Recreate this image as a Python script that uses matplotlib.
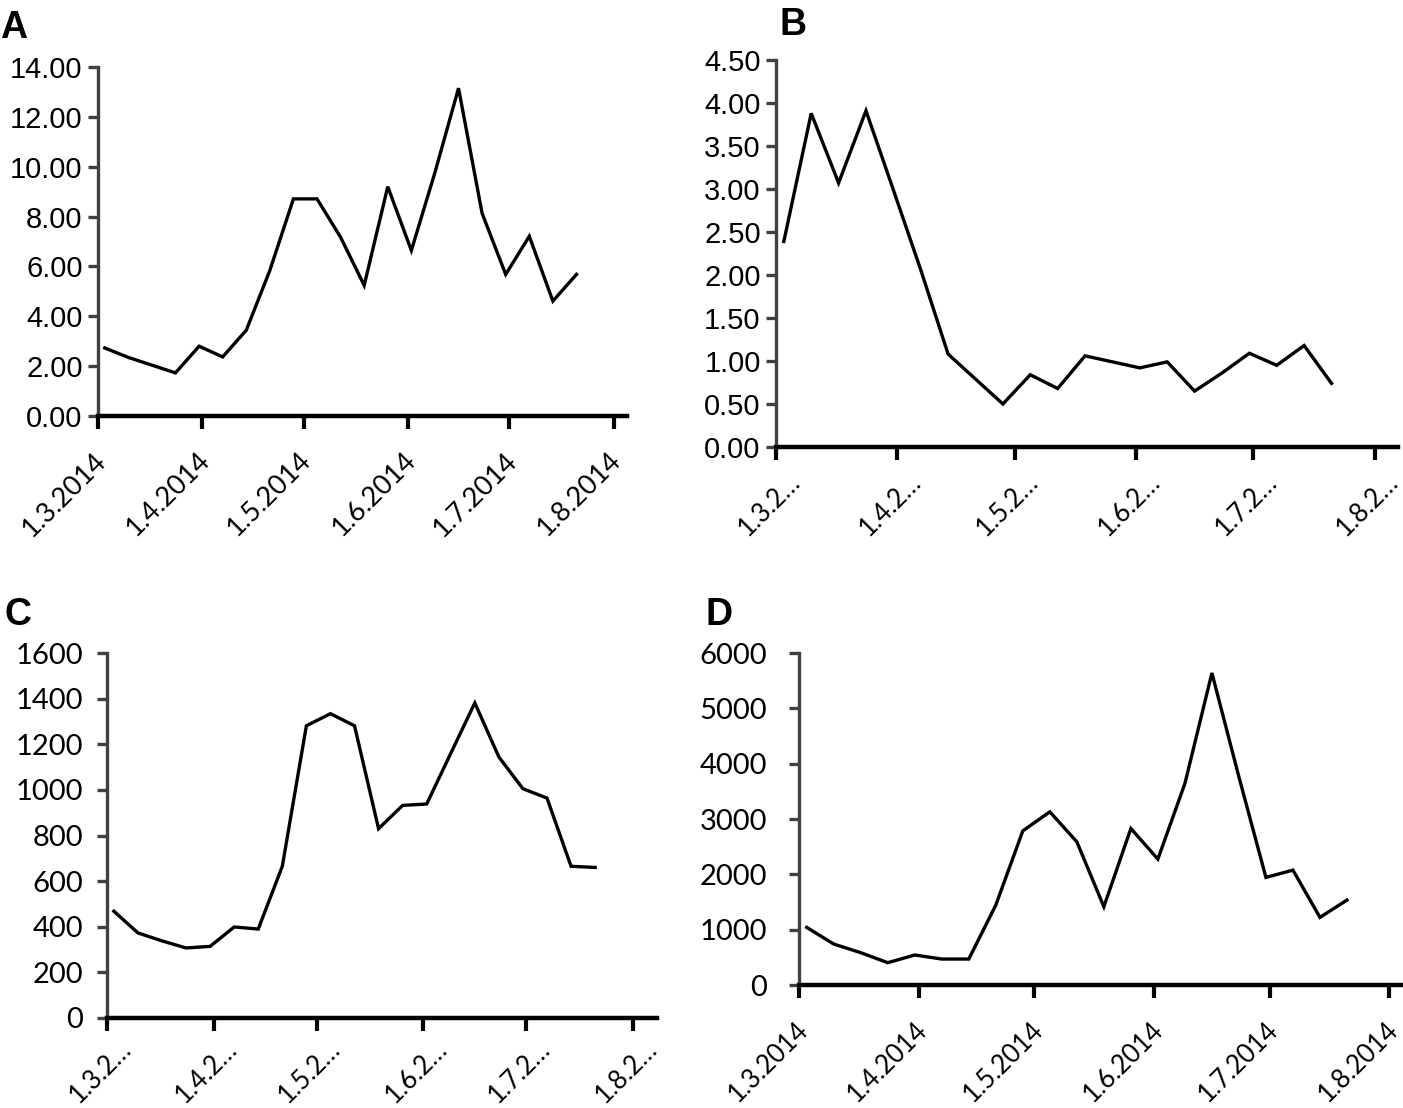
import matplotlib
matplotlib.use('Agg')
import matplotlib.pyplot as plt
import matplotlib.dates as mdates
from matplotlib.transforms import ScaledTranslation
import numpy as np

# ---------------- data ----------------
dates = ['2014-03-03', '2014-03-10', '2014-03-17', '2014-03-24', '2014-03-31',
         '2014-04-07', '2014-04-14', '2014-04-21', '2014-04-28', '2014-05-05',
         '2014-05-12', '2014-05-19', '2014-05-26', '2014-06-02', '2014-06-09',
         '2014-06-16', '2014-06-23', '2014-06-30', '2014-07-07', '2014-07-14',
         '2014-07-21']

tick_dates = ['2014-03-01', '2014-04-01', '2014-05-01', '2014-06-01',
              '2014-07-01', '2014-08-01']
full_labels = ['1.3.2014', '1.4.2014', '1.5.2014', '1.6.2014', '1.7.2014', '1.8.2014']
short_labels = ['1.3.2…', '1.4.2…', '1.5.2…', '1.6.2…', '1.7.2…', '1.8.2…']

a_values = [2.73, 2.35, 2.04, 1.73, 2.80, 2.37, 3.44, 5.84, 8.71, 8.71,
            7.17, 5.24, 9.20, 6.64, 9.77, 13.15, 8.13, 5.68, 7.21, 4.61, 5.68]
b_values = [2.39, 3.88, 3.07, 3.91, 2.99, 2.06, 1.08, 0.79, 0.50, 0.84,
            0.68, 1.06, 0.99, 0.92, 0.99, 0.65, 0.86, 1.09, 0.95, 1.18, 0.74]
c_values = [468, 373, 338, 307, 314, 399, 390, 665, 1281, 1334,
            1281, 830, 932, 938, 1160, 1381, 1144, 1005, 964, 665, 660]
d_values = [1041, 740, 584, 403, 542, 469, 469, 1444, 2786, 3129,
            2588, 1414, 2828, 2275, 3641, 5639, 3760, 1944, 2076, 1222, 1535]

W, H = 1403, 1108
fig = plt.figure(figsize=(W / 100, H / 100), dpi=100)

ARIAL = ['Liberation Sans', 'DejaVu Sans']
CALIBRI = ['Lato', 'DejaVu Sans']

def px_rect(x0, x1, ytop, ybot):
    return [x0 / W, (H - ybot) / H, (x1 - x0) / W, (ybot - ytop) / H]

panels = [
    dict(letter='A', vals=a_values, rect=px_rect(98, 627, 67, 416), ylim=(0, 14),
         yticks=[0, 2, 4, 6, 8, 10, 12, 14], fmt='{:.2f}', yfont=ARIAL, ysize=21, ypad=4,
         labels=full_labels, xend='2014-08-05', dx=4, dy=37, xsize=19.5, lxy=(0, 38)),
    dict(letter='B', vals=b_values, rect=px_rect(776, 1398, 60, 447), ylim=(0, 4.5),
         yticks=[0, 0.5, 1, 1.5, 2, 2.5, 3, 3.5, 4, 4.5], fmt='{:.2f}', yfont=ARIAL, ysize=21, ypad=4,
         labels=short_labels, xend='2014-08-07', dx=20, dy=27, xsize=18.5, lxy=(779, 35)),
    dict(letter='C', vals=c_values, rect=px_rect(107, 657, 653, 1018), ylim=(0, 1600),
         yticks=[0, 200, 400, 600, 800, 1000, 1200, 1400, 1600], fmt='{:.0f}', yfont=CALIBRI, ysize=21, ypad=10,
         labels=short_labels, xend='2014-08-08', dx=20, dy=23, xsize=18.5, lxy=(4, 625)),
    dict(letter='D', vals=d_values, rect=px_rect(799, 1401, 653, 985), ylim=(0, 6000),
         yticks=[0, 1000, 2000, 3000, 4000, 5000, 6000], fmt='{:.0f}', yfont=CALIBRI, ysize=21, ypad=16,
         labels=full_labels, xend='2014-08-04', dx=5, dy=37, xsize=18.5, lxy=(705, 625)),
]

xdates = mdates.datestr2num(dates)
xticks = mdates.datestr2num(tick_dates)

for p in panels:
    ax = fig.add_axes(p['rect'])
    ax.plot(xdates, p['vals'], color='black', lw=2.4, solid_joinstyle='miter')
    ax.set_xlim(xticks[0], mdates.datestr2num(p['xend']))
    ax.set_ylim(*p['ylim'])
    for s in ('top', 'right'):
        ax.spines[s].set_visible(False)
    ax.spines['left'].set_color('#404040')
    ax.spines['left'].set_linewidth(2.4)
    ax.spines['bottom'].set_color('black')
    ax.spines['bottom'].set_linewidth(3.2)
    ax.spines['bottom'].set_zorder(3)

    ax.set_yticks(p['yticks'])
    ax.set_yticklabels([p['fmt'].format(v) for v in p['yticks']],
                       fontfamily=p['yfont'], fontsize=p['ysize'], color='black')
    ax.tick_params(axis='y', direction='out', length=7, width=2.4, color='#404040',
                   pad=p['ypad'])

    ax.set_xticks(xticks)
    ax.set_xticklabels(p['labels'], rotation=45, ha='right', va='center',
                       rotation_mode='anchor', fontfamily=CALIBRI, fontsize=p['xsize'],
                       color='black')
    ticklen = 9
    ax.tick_params(axis='x', direction='out', length=ticklen, width=3, color='black',
                   pad=(p['dy'] - ticklen) * 0.72)
    off = ScaledTranslation(p['dx'] / 100, 0, fig.dpi_scale_trans)
    for lbl in ax.get_xticklabels():
        lbl.set_transform(lbl.get_transform() + off)

    fig.text(p['lxy'][0] / W, 1 - p['lxy'][1] / H, p['letter'], fontfamily=ARIAL,
             fontweight='bold', fontsize=27, ha='left', va='baseline')

fig.savefig('out.png', dpi=100, facecolor='white')
